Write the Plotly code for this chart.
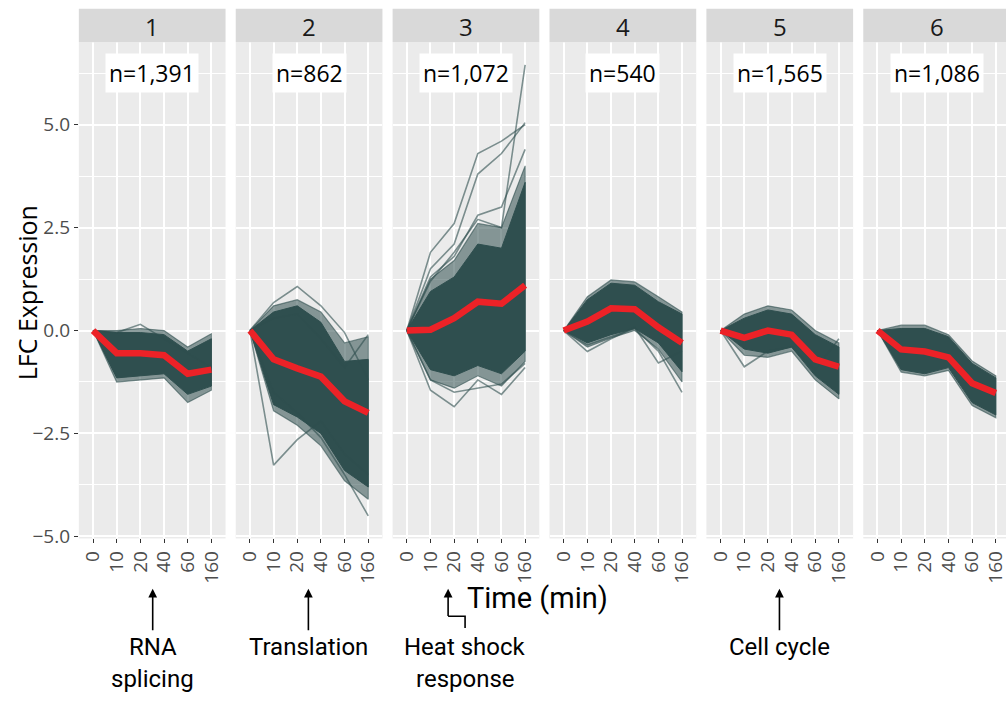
import plotly.graph_objects as go

# ---------------- data ----------------
TIMES = ["0", "10", "20", "40", "60", "160"]
CLUSTERS = ["1", "2", "3", "4", "5", "6"]
N_LABELS = ["n=1,391", "n=862", "n=1,072", "n=540", "n=1,565", "n=1,086"]

# mean profile of each cluster (red line)
mean_lfc = [
    [0, -0.55, -0.55, -0.60, -1.05, -0.95],
    [0, -0.70, -0.92, -1.12, -1.72, -2.00],
    [0, 0.02, 0.30, 0.70, 0.65, 1.10],
    [0, 0.22, 0.54, 0.52, 0.08, -0.30],
    [0, -0.18, 0.00, -0.10, -0.70, -0.88],
    [0, -0.46, -0.51, -0.65, -1.28, -1.52],
]
# envelope of the dense bundle of gene profiles
dense_hi = [
    [0, -0.05, -0.05, -0.10, -0.50, -0.20],
    [0, 0.45, 0.60, 0.20, -0.75, -0.70],
    [0, 0.95, 1.30, 2.10, 2.00, 3.60],
    [0, 0.75, 1.15, 1.10, 0.70, 0.40],
    [0, 0.30, 0.50, 0.40, -0.10, -0.40],
    [0, 0.05, 0.05, -0.15, -0.80, -1.15],
]
dense_lo = [
    [0, -1.15, -1.10, -1.05, -1.55, -1.35],
    [0, -1.80, -2.10, -2.50, -3.40, -3.80],
    [0, -0.95, -1.10, -0.85, -1.05, -0.50],
    [0, -0.30, -0.10, 0.05, -0.30, -1.00],
    [0, -0.45, -0.55, -0.40, -1.10, -1.55],
    [0, -0.95, -1.05, -0.90, -1.75, -2.05],
]
# envelope of the sparser fringe of gene profiles
outer_hi = [
    [0, 0.00, 0.05, 0.00, -0.40, -0.08],
    [0, 0.60, 0.75, 0.45, -0.30, -0.15],
    [0, 1.25, 1.70, 2.60, 2.50, 4.00],
    [0, 0.82, 1.23, 1.18, 0.82, 0.45],
    [0, 0.40, 0.60, 0.50, 0.00, -0.30],
    [0, 0.13, 0.13, -0.10, -0.74, -1.10],
]
outer_lo = [
    [0, -1.25, -1.20, -1.15, -1.75, -1.45],
    [0, -1.95, -2.30, -2.80, -3.65, -4.10],
    [0, -1.20, -1.40, -1.10, -1.35, -0.75],
    [0, -0.40, -0.18, 0.00, -0.45, -1.25],
    [0, -0.60, -0.65, -0.50, -1.20, -1.66],
    [0, -1.01, -1.10, -0.97, -1.82, -2.12],
]
# individual stray gene profiles
outlier_lines = [
    [[0, -0.05, 0.15, -0.20, -0.55, -0.90]],
    [[0, 0.68, 1.07, 0.60, -0.05, -1.20],
     [0, 0.30, 0.40, -0.20, -0.90, -0.10],
     [0, -3.27, -2.65, -2.20, -3.00, -3.50],
     [0, -1.50, -2.00, -2.60, -3.50, -4.50]],
    [[0, 1.90, 2.60, 4.30, 4.60, 5.00],
     [0, 1.50, 2.10, 3.80, 4.30, 5.05],
     [0, 1.20, 1.90, 2.70, 2.50, 6.45],
     [0, 1.30, 1.80, 2.80, 3.00, 4.40],
     [0, -1.45, -1.85, -1.20, -1.55, -0.90],
     [0, -1.20, -1.50, -1.40, -1.30, -0.80]],
    [[0, -0.51, -0.20, 0.08, -0.79, -0.50],
     [0, -0.35, -0.15, 0.05, -0.50, -1.50]],
    [[0, -0.88, -0.50, -0.40, -0.95, -0.20]],
    [],
]

Y_TICKS = [-5.0, -2.5, 0.0, 2.5, 5.0]
Y_TICKTEXT = ["\u22125.0", "\u22122.5", "0.0", "2.5", "5.0"]
Y_MINOR = [-3.75, -1.25, 1.25, 3.75, 6.25]

ANNOT_TEXT = [("RNA", "splicing"), ("Translation",), ("Heat shock", "response"), ("Cell cycle",)]

# ---------------- layout helpers ----------------
W, H = 1008, 704
def px(x):
    return x / W
def py(y):
    return 1 - y / H

PANEL_L0, PANEL_STEP, PANEL_W = 79.0, 157.2, 147.0
PANEL_TOP, PANEL_BOT, STRIP_TOP = 43.0, 547.0, 9.0
SLATE = "#2F4F4F"
RED = "#EC2227"
FONT = "Open Sans, Noto Sans, sans-serif"
NARROW = "Roboto, Liberation Sans Narrow, sans-serif"

fig = go.Figure()
layout = dict(
    width=W, height=H, margin=dict(l=0, r=0, t=0, b=0),
    paper_bgcolor="white", plot_bgcolor="#EBEBEB", showlegend=False,
    font=dict(family=FONT),
)
shapes, annotations = [], []

def paper_text(text, x, y, size, family, color="black", angle=0):
    return dict(text=text, xref="paper", yref="paper", x=px(x), y=py(y),
                xanchor="center", yanchor="middle", textangle=angle,
                showarrow=False, font=dict(size=size, color=color, family=family))

def arrow(x, y_tail, y_head):
    # vertical arrow pointing up; head at (x, y_head), tail offset in pixels
    return dict(text="", xref="paper", yref="paper",
                x=px(x), y=py(y_head), ax=0, ay=y_tail - y_head, showarrow=True,
                arrowhead=2, arrowsize=1.1, arrowwidth=1.6, arrowcolor="black", standoff=0)

for i in range(6):
    sfx = "" if i == 0 else str(i + 1)
    xa, ya = "x" + sfx, "y" + sfx
    left = PANEL_L0 + i * PANEL_STEP
    right = left + PANEL_W
    xrange_hi = 5.6
    if right > W:
        xrange_hi = 5.6 - (right - W) / (PANEL_W / 6.2)
        right = W
    layout["xaxis" + sfx] = dict(
        domain=[px(left), px(right)], anchor=ya, type="category",
        categoryorder="array", categoryarray=TIMES,
        range=[-0.6, xrange_hi], showgrid=True, gridcolor="white", gridwidth=1.8,
        zeroline=False, ticks="outside", ticklen=4, tickwidth=1.2, tickcolor="#333333",
        tickangle=-90, tickfont=dict(size=19, color="#4D4D4D", family=FONT),
        showline=False,
    )
    layout["yaxis" + sfx] = dict(
        domain=[py(PANEL_BOT), py(PANEL_TOP)], anchor=xa, range=[-5.05, 7.0],
        tickvals=Y_TICKS, ticktext=Y_TICKTEXT,
        showgrid=True, gridcolor="white", gridwidth=1.8, zeroline=False,
        minor=dict(tickvals=Y_MINOR, showgrid=True, gridcolor="white", gridwidth=0.9, ticks=""),
        showticklabels=(i == 0), ticks="outside" if i == 0 else "", ticklen=4,
        tickwidth=1.2, tickcolor="#333333",
        tickfont=dict(size=19, color="#4D4D4D", family=FONT),
    )
    # outer fringe band
    fig.add_trace(go.Scatter(
        x=TIMES + TIMES[::-1], y=outer_hi[i] + outer_lo[i][::-1], xaxis=xa, yaxis=ya,
        fill="toself", fillcolor="rgba(47,79,79,0.55)", mode="lines",
        line=dict(color="rgba(47,79,79,0.6)", width=1.2), hoverinfo="skip"))
    # dense band
    fig.add_trace(go.Scatter(
        x=TIMES + TIMES[::-1], y=dense_hi[i] + dense_lo[i][::-1], xaxis=xa, yaxis=ya,
        fill="toself", fillcolor=SLATE, mode="lines",
        line=dict(color=SLATE, width=1), hoverinfo="skip"))
    for ln in outlier_lines[i]:
        fig.add_trace(go.Scatter(
            x=TIMES, y=ln, xaxis=xa, yaxis=ya, mode="lines",
            line=dict(color="rgba(47,79,79,0.6)", width=1.6), hoverinfo="skip"))
    fig.add_trace(go.Scatter(
        x=TIMES, y=mean_lfc[i], xaxis=xa, yaxis=ya, mode="lines",
        line=dict(color=RED, width=6.5), hoverinfo="skip"))
    # strip
    shapes.append(dict(type="rect", xref="paper", yref="paper",
                       x0=px(left), x1=px(right), y0=py(PANEL_TOP), y1=py(STRIP_TOP),
                       fillcolor="#D9D9D9", line=dict(width=0), layer="above"))
    annotations.append(paper_text(CLUSTERS[i], left + PANEL_W / 2,
                                  (STRIP_TOP + PANEL_TOP) / 2 + 1, 24, FONT, "#1A1A1A"))
    annotations.append(dict(text=N_LABELS[i], xref=xa, yref=ya, x=2.5, y=6.25,
                            xanchor="center", yanchor="middle",
                            showarrow=False, bgcolor="white", borderpad=3,
                            font=dict(size=23, color="black", family=FONT)))

# axis titles
annotations.append(paper_text("LFC Expression", 27, 297, 25, FONT, angle=-90))
annotations.append(paper_text("Time (min)", 539, 607, 29, NARROW))

# annotations with arrows
arrow_x = [153, 309, 781]
text_sets = [ANNOT_TEXT[0], ANNOT_TEXT[1], ANNOT_TEXT[3]]
for ax_, txt in zip(arrow_x, text_sets):
    annotations.append(arrow(ax_, 641, 598))
    for k, t in enumerate(txt):
        annotations.append(paper_text(t, ax_, 657 + 33 * k, 24, NARROW))
# heat shock bent arrow
shapes.append(dict(type="path", xref="paper", yref="paper",
                   path=f"M {px(466)} {py(638)} L {px(466)} {py(626)} L {px(449)} {py(626)}",
                   line=dict(color="black", width=1.6)))
annotations.append(arrow(449, 626.8, 598))
for k, t in enumerate(ANNOT_TEXT[2]):
    annotations.append(paper_text(t, 466, 657 + 33 * k, 24, NARROW))

layout["shapes"] = shapes
layout["annotations"] = annotations
fig.update_layout(**layout)
fig.write_html("out.html")
